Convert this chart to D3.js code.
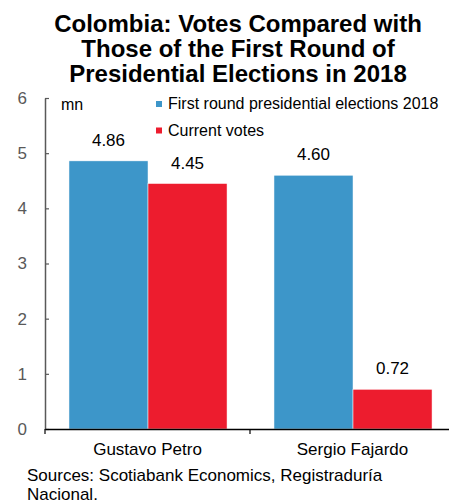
<!DOCTYPE html>
<html>
<head>
<meta charset="utf-8">
<script src="https://cdn.jsdelivr.net/npm/d3@7"></script>
<style>
  body { margin: 0; background: #fff; }
  text { font-family: "Liberation Sans", Arial, sans-serif; }
</style>
</head>
<body>
<div id="chart"></div>
<script>
// data
const candidates = ['Gustavo Petro', 'Sergio Fajardo'];
const seriesNames = ['First round presidential elections 2018', 'Current votes'];
const firstRound = [4.86, 4.60];
const currentVotes = [4.45, 0.72];
const yTicks = [0, 1, 2, 3, 4, 5, 6];
const titleLines = ['Colombia: Votes Compared with', 'Those of the First Round of', 'Presidential Elections in 2018'];
const sourceLines = ['Sources: Scotiabank Economics, Registraduría', 'Nacional.'];

const COLORS = {
    'First round presidential elections 2018': '#3d96c9',
    'Current votes': '#ed1c2e'
};

const width = 449;
const height = 503;
const margin = {top: 98, bottom: 74, left: 45, right: -6};

const rows = candidates.map((c, i) => ({
    name: c,
    values: [
        {series: seriesNames[0], value: firstRound[i]},
        {series: seriesNames[1], value: currentVotes[i]}
    ]
}));

const svg = d3.select('#chart')
    .append('svg')
        .attr('width', width)
        .attr('height', height);

// title
svg.append('text')
    .attr('text-anchor', 'middle')
    .style('font-size', '24px')
    .style('font-weight', 'bold')
    .selectAll('tspan')
    .data(titleLines)
    .join('tspan')
        .attr('x', 238)
        .attr('y', (d, i) => 32 + i * 25)
        .text(d => d);

const x0 = d3.scaleBand()
    .domain(candidates)
    .range([margin.left, width - margin.right])
    .paddingInner(0)
    .paddingOuter(0);

const x1 = d3.scaleBand()
    .domain(seriesNames)
    .range([x0.bandwidth() * 0.117, x0.bandwidth() * 0.888]);

const y = d3.scaleLinear()
    .domain([0, 6])
    .range([height - margin.bottom, margin.top]);

// bars
const groups = svg.selectAll('.group')
    .data(rows)
    .join('g')
        .attr('class', 'group')
        .attr('transform', d => 'translate(' + x0(d.name) + ',0)');

groups.selectAll('rect')
    .data(d => d.values)
    .join('rect')
        .attr('x', d => x1(d.series))
        .attr('y', d => y(d.value))
        .attr('width', x1.bandwidth())
        .attr('height', d => y(0) - y(d.value))
        .attr('fill', d => COLORS[d.series])
        .attr('stroke', '#fff')
        .attr('stroke-width', 0.5);

groups.selectAll('.val')
    .data(d => d.values)
    .join('text')
        .attr('class', 'val')
        .attr('x', d => x1(d.series) + x1.bandwidth() / 2)
        .attr('y', d => y(d.value) - 15)
        .attr('text-anchor', 'middle')
        .style('font-size', '17px')
        .text(d => d.value.toFixed(2));

// y axis
const yAxis = svg.append('g')
    .attr('transform', 'translate(' + margin.left + ',0)')
    .call(d3.axisLeft(y).tickValues(yTicks).tickFormat(d3.format('d'))
        .tickSize(-4).tickSizeOuter(0).tickPadding(18));
yAxis.select('.domain').attr('stroke', '#595959').attr('stroke-width', 1.5);
yAxis.selectAll('.tick line').attr('stroke', '#595959').attr('stroke-width', 1.2);
yAxis.selectAll('.tick text')
    .style('font-size', '17px')
    .style('font-family', '"Liberation Sans", Arial, sans-serif')
    .attr('fill', '#595959');

svg.append('text')
    .attr('x', 61)
    .attr('y', 110)
    .style('font-size', '16px')
    .text('mn');

// x axis
const xAxis = svg.append('g')
    .attr('transform', 'translate(0,' + y(0) + ')')
    .call(d3.axisBottom(x0).tickSize(0).tickPadding(14));
xAxis.select('.domain').attr('stroke', '#000').attr('stroke-width', 1.5);
xAxis.selectAll('.tick text')
    .style('font-size', '17px')
    .style('font-family', '"Liberation Sans", Arial, sans-serif')
    .attr('fill', '#000');

const boundaries = candidates.map(c => x0(c)).concat([x0.range()[1]]);
xAxis.selectAll('.bound')
    .data(boundaries)
    .join('line')
        .attr('class', 'bound')
        .attr('x1', d => d)
        .attr('x2', d => d)
        .attr('y1', 0)
        .attr('y2', 5)
        .attr('stroke', '#000')
        .attr('stroke-width', 1.2);

// legend
const legend = svg.append('g')
    .attr('transform', 'translate(156,98)');
const item = legend.selectAll('g')
    .data(seriesNames)
    .join('g')
        .attr('transform', (d, i) => 'translate(0,' + i * 26.5 + ')');
item.append('rect')
    .attr('width', 6)
    .attr('height', 6)
    .attr('y', 3)
    .attr('fill', d => COLORS[d]);
item.append('text')
    .attr('x', 12)
    .attr('y', 11)
    .style('font-size', '16px')
    .text(d => d);

// sources
svg.append('text')
    .style('font-size', '17px')
    .selectAll('tspan')
    .data(sourceLines)
    .join('tspan')
        .attr('x', 27)
        .attr('y', (d, i) => 481 + i * 19)
        .text(d => d);
</script>
</body>
</html>
